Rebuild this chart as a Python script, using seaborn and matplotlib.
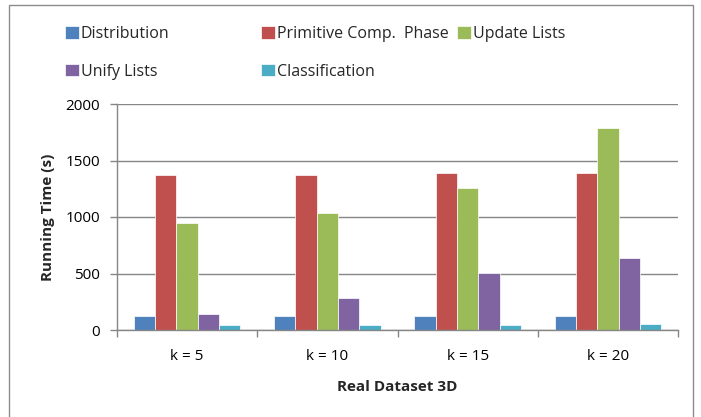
import matplotlib
matplotlib.use("Agg")
import matplotlib.pyplot as plt
import seaborn as sns
import pandas as pd
from matplotlib.patches import Rectangle

# Running time per processing stage for each k
k_labels = ["k = 5", "k = 10", "k = 15", "k = 20"]
stages = ["Distribution", "Primitive Comp.  Phase", "Update Lists", "Unify Lists", "Classification"]
distribution = [127, 127, 127, 127]
primitive_comp = [1372, 1372, 1386, 1386]
update_lists = [944, 1032, 1259, 1790]
unify_lists = [139, 280, 504, 634]
classification = [41, 41, 40, 50]
colors = ["#4F81BD", "#C0504D", "#9BBB59", "#8064A2", "#4BACC6"]

series = [distribution, primitive_comp, update_lists, unify_lists, classification]
rows = []
for stage, vals in zip(stages, series):
    for k, v in zip(k_labels, vals):
        rows.append({"k": k, "stage": stage, "time": v})
df = pd.DataFrame(rows)

sns.set_theme(style="white")
plt.rcParams["font.family"] = ["Open Sans", "DejaVu Sans"]

fig = plt.figure(figsize=(7.01, 4.17), dpi=100)
ax = fig.add_axes([117 / 701, 1 - 330 / 417, (678 - 117) / 701, (330 - 104) / 417])

sns.barplot(data=df, x="k", y="time", hue="stage", order=k_labels, hue_order=stages,
            palette=colors, width=0.76, edgecolor="white", linewidth=0.5,
            saturation=1, ax=ax, legend=True)

grid_c = "#868686"
ax.set_ylim(0, 2000)
ax.set_xlim(-0.5, 3.5)
ax.set_yticks([0, 500, 1000, 1500, 2000])
ax.yaxis.grid(True, color=grid_c, linewidth=1)
ax.set_axisbelow(True)
for s in ["top", "right"]:
    ax.spines[s].set_visible(False)
for s in ["left", "bottom"]:
    ax.spines[s].set_color(grid_c)
    ax.spines[s].set_linewidth(1)

fs = 11
ax.set_xticks(range(len(k_labels)))
ax.set_xticklabels(k_labels)
ax.set_xticks([-0.5, 0.5, 1.5, 2.5, 3.5], minor=True)
ax.tick_params(axis="x", which="major", length=0, pad=14, labelsize=fs, colors="black")
ax.tick_params(axis="x", which="minor", length=5, width=1, color=grid_c, direction="out", bottom=True)
ax.tick_params(axis="y", which="major", length=5, width=1, color=grid_c, direction="out",
               left=True, pad=7, labelsize=fs, colors="black")

ax.set_xlabel("Real Dataset 3D", fontsize=fs, fontweight="bold", labelpad=11)
ax.set_ylabel("Running Time (s)", fontsize=fs, fontweight="bold", labelpad=8)

handles, labels = ax.get_legend_handles_labels()
ax.get_legend().remove()

# legend laid out in three columns across the top
col_x = [65 / 701, 261 / 701, 457 / 701]
col_items = [[0, 3], [1, 4], [2]]
for x, idx in zip(col_x, col_items):
    fig.legend([handles[i] for i in idx], [labels[i] for i in idx],
               loc="upper left", bbox_to_anchor=(x, 1 - 26 / 417),
               frameon=False, fontsize=11.5, handlelength=0.85, handleheight=0.85,
               handletextpad=0.15, labelspacing=1.35, borderpad=0, borderaxespad=0)

# outer chart frame
fig.patches.append(Rectangle((9 / 701, -0.05), (693 - 9) / 701, 1.05 - 5 / 417,
                             transform=fig.transFigure, fill=False,
                             edgecolor="#8c8c8c", linewidth=1))

fig.savefig("out.png", dpi=100)
